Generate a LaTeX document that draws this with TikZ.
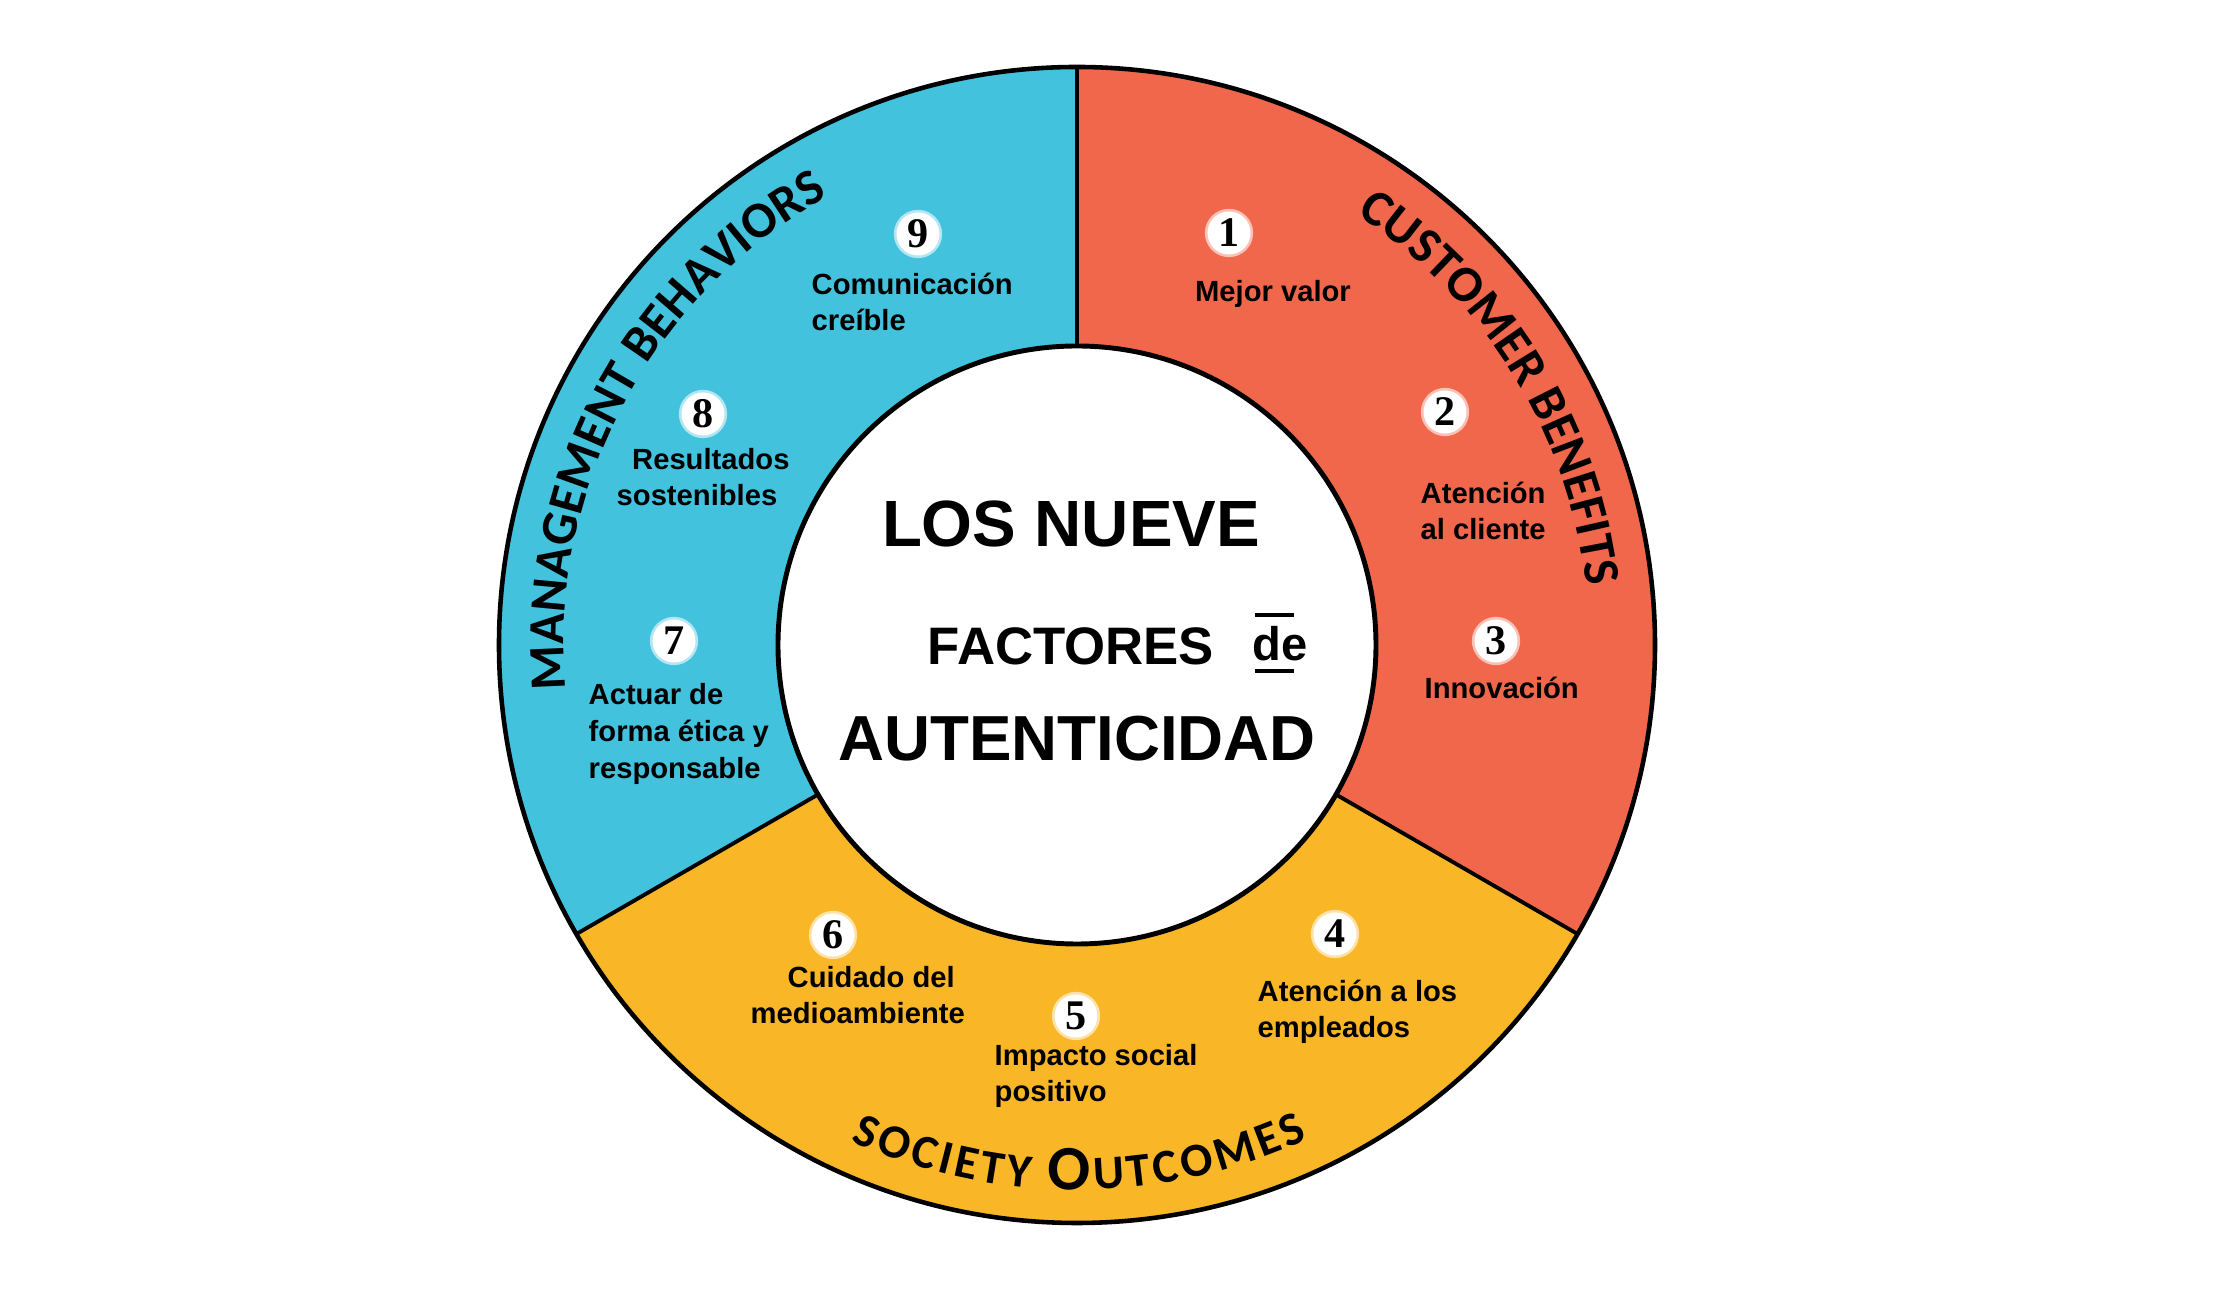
\documentclass[tikz,border=0pt]{standalone}
\usepackage{fontspec}
\setmainfont{Liberation Sans}
\newfontfamily\numfont{Liberation Serif}
\newfontfamily\arcfont{Carlito}
\usetikzlibrary{decorations.text}

\definecolor{custred}{RGB}{240,103,75}
\definecolor{custblue}{RGB}{67,194,222}
\definecolor{custyellow}{RGB}{249,183,39}

\tikzset{
  factor/.style={font=\bfseries\fontsize{8.3}{10.4}\selectfont, inner sep=0pt},
  numdot/.style={circle, fill=white, draw=white, draw opacity=0.6,
    line width=1.5pt, inner sep=0pt, minimum size=0.43cm,
    font=\numfont\bfseries\fontsize{12}{12}\selectfont},
  title/.style={font=\bfseries\fontsize{18.6}{20}\selectfont, inner sep=0pt},
}
\newcommand\arcsize{\arcfont\bfseries\fontsize{14.5}{15}\selectfont}

\begin{document}
\begin{tikzpicture}[x=0.01cm, y=0.01cm]

\newcommand\Ro{578}
\newcommand\Ri{299}
\newcommand\Rt{513}
\newcommand\Rb{545}

\useasboundingbox (-1077,-650) rectangle (1138,645); %% page size

%% ring
\fill[custred]    (0,0) -- (90:\Ro)  arc (90:-30:\Ro)  -- cycle;
\fill[custblue]   (0,0) -- (90:\Ro)  arc (90:210:\Ro)  -- cycle;
\fill[custyellow] (0,0) -- (210:\Ro) arc (210:330:\Ro) -- cycle;
\foreach \a in {90,210,330}
  \draw[line width=1.1pt] (\a:\Ri) -- (\a:\Ro);
\draw[line width=1.3pt] (0,0) circle (\Ro);
\draw[line width=1.4pt, fill=white] (0,0) circle (\Ri);

%% curved titles
\path[decorate, decoration={text along path, text align=fit to path,
  text={|\arcsize|CUSTOMER BENEFITS}}]
  (57:\Rt) arc (57:7:\Rt);
\path[decorate, decoration={text along path, text align=fit to path,
  text={|\arcsize|MANAGEMENT BEHAVIORS}}]
  (185:\Rt) arc (185:119:\Rt);
\path[decorate, decoration={text along path, text align=fit to path,
  text={|\arcfont\bfseries\fontsize{13.5}{14}\selectfont|SOCIETY |\arcfont\bfseries\fontsize{18}{18}\selectfont|O|\arcfont\bfseries\fontsize{13.5}{14}\selectfont|UTCOMES}}]
  (245.5:\Rb) arc (245.5:295:\Rb);

%% centre
\node[title] (los) at (-6,121) {LOS NUEVE};
\node[title, font=\bfseries\fontsize{15}{16}\selectfont] (fact) at (-6,-1) {FACTORES};
\node[inner sep=0pt, font=\bfseries\fontsize{13.4}{14}\selectfont] (de) at (203,1) {de};
\draw[line width=1.4pt] (178,30) -- (217,30);
\draw[line width=1.4pt] (178,-26) -- (217,-26);
\node[title, font=\bfseries\fontsize{18.1}{20}\selectfont] (aut) at (0,-94) {AUTENTICIDAD};

%% the nine factors
\node[numdot] (n1) at (152,412) {1};
\node[numdot] (n2) at (368,233) {2};
\node[numdot] (n3) at (419,4) {3};
\node[numdot] (n4) at (258,-289) {4};
\node[numdot] (n5) at (-1,-371) {5};
\node[numdot] (n6) at (-244,-290) {6};
\node[numdot] (n7) at (-403,4) {7};
\node[numdot] (n8) at (-374,231) {8};
\node[numdot] (n9) at (-159,411) {9};

\node[factor] (f1) at (196,351) {Mejor valor};
\node[factor, anchor=west, align=left] (f2) at (343,134) {Atención\\al cliente};
\node[factor, anchor=west] (f3) at (347,-43) {Innovación};
\node[factor, anchor=west, align=left] (f4) at (180,-367) {Atención a los\\empleados};
\node[factor, anchor=west, align=left] (f5) at (-83,-431) {Impacto social\\positivo};
\node[factor, anchor=west, align=left] (f6) at (-327,-350) {\hspace*{0.37cm}Cuidado del\\medioambiente};
\node[factor, anchor=west, align=left] (f7) at (-489,-89) {Actuar de\\forma ética y\\responsable};
\node[factor, anchor=west, align=left] (f8) at (-461,168) {\hspace*{0.155cm}Resultados\\sostenibles};
\node[factor, anchor=west, align=left] (f9) at (-266,343) {Comunicación\\creíble};

\end{tikzpicture}
\end{document}
